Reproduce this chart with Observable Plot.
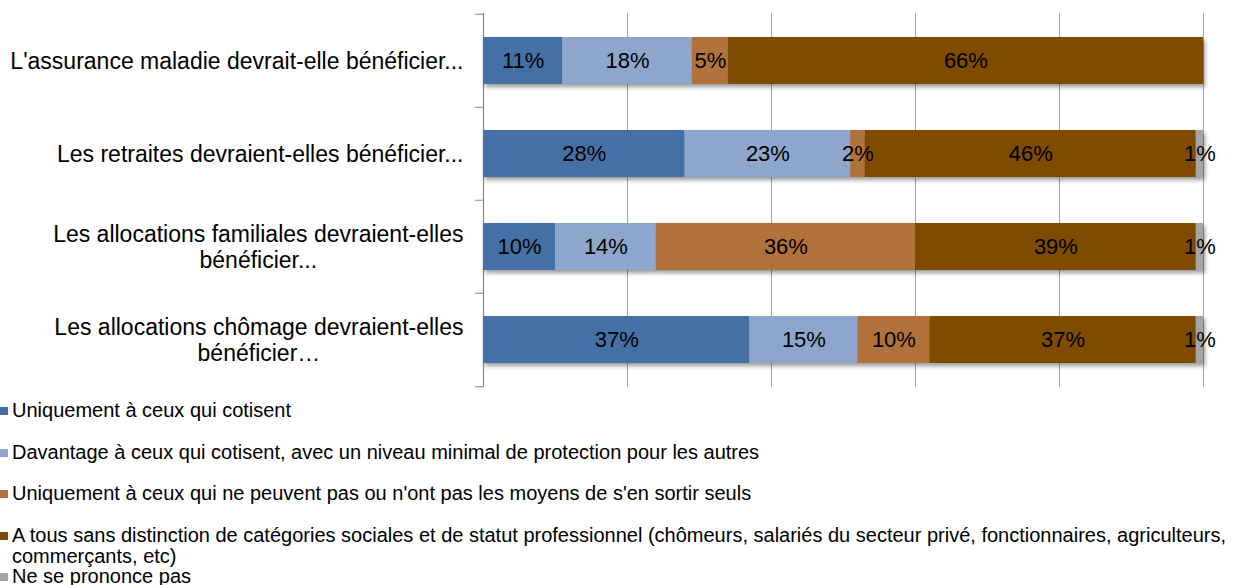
<!DOCTYPE html>
<html><head><meta charset="utf-8">
<script src="https://cdn.jsdelivr.net/npm/d3@7"></script>
<script src="https://cdn.jsdelivr.net/npm/@observablehq/plot@0.6"></script>
<style>
body{margin:0;background:#fff;font-family:"Liberation Sans",Arial,sans-serif;}
#chart svg{display:block;}
#legend{width:1233px;}
.item{display:flex;align-items:flex-start;height:41.5px;overflow:visible;}
.sw{width:8px;height:8px;flex:none;margin-top:7px;margin-right:4px;}
.lt{font-size:20px;line-height:21.5px;color:#000;}
</style></head><body><div id="chart"></div><div id="legend"></div>
<script>
const categories = [
  "L'assurance maladie devrait-elle bénéficier...",
  "Les retraites devraient-elles bénéficier...",
  "Les allocations familiales devraient-elles\nbénéficier...",
  "Les allocations chômage devraient-elles\nbénéficier…"
];
const seriesNames = [
  "Uniquement à ceux qui cotisent",
  "Davantage à ceux qui cotisent, avec un niveau minimal de protection pour les autres",
  "Uniquement à ceux qui ne peuvent pas ou n'ont pas les moyens de s'en sortir seuls",
  "A tous sans distinction de catégories sociales et de statut professionnel (chômeurs, salariés du secteur privé, fonctionnaires, agriculteurs, commerçants, etc)",
  "Ne se prononce pas"
];
const colors = ["#4470a6", "#8ea6cc", "#b0713b", "#7f4b00", "#a5a5a5"];
const uniquementCotisent = [11, 28, 10, 37];
const davantageCotisent = [18, 23, 14, 15];
const uniquementSansMoyens = [5, 2, 36, 10];
const aTous = [66, 46, 39, 37];
const nsp = [0, 1, 1, 1];
const seriesValues = [uniquementCotisent, davantageCotisent, uniquementSansMoyens, aTous, nsp];
const gridTicks = [20, 40, 60, 80, 100];

const data = categories.flatMap((c, i) => seriesNames.map((s, j) => ({cat: c, series: s, value: seriesValues[j][i]})));

const W = 1233, H = 400, mt = 13, mb = 13, ml = 483, mr = 30;
const step = (H - mt - mb) / categories.length;
const labelFont = 23;
const ctx = document.createElement("canvas").getContext("2d");
ctx.font = `${labelFont}px "Liberation Sans"`;

const labelMarks = categories.map(c => {
  const w = d3.max(c.split("\n"), l => ctx.measureText(l).width);
  return Plot.text([c], {x: () => 0, y: d => d, text: d => d, textAnchor: "middle",
    dx: -(20 + w / 2), fontSize: labelFont, lineHeight: 1.13, fill: "#000"});
});

const chart = Plot.plot({
  width: W, height: H,
  marginTop: mt, marginBottom: mb, marginLeft: ml, marginRight: mr,
  style: {fontFamily: '"Liberation Sans", Arial, sans-serif', background: "#fff"},
  x: {domain: [0, 100], axis: null},
  y: {domain: categories, paddingInner: 0.497, paddingOuter: 0.2485, axis: null},
  color: {domain: seriesNames, range: colors},
  marks: [
    Plot.ruleX(gridTicks, {stroke: "#a6a6a6", strokeWidth: 1}),
    Plot.ruleX([0], {stroke: "#868686", strokeWidth: 1.2}),
    Plot.ruleY(categories, {y: d => d, x1: -1.1, x2: 0, dy: -step / 2, stroke: "#868686"}),
    Plot.ruleY(categories.slice(-1), {y: d => d, x1: -1.1, x2: 0, dy: step / 2, stroke: "#868686"}),
    Plot.barX(data, Plot.stackX({x: "value", y: "cat", fill: "series"})),
    Plot.text(data.filter(d => d.value > 0), Plot.stackX({x: "value", y: "cat", z: "series",
      text: d => d.value + "%", fontSize: 22, fill: "#000"})),
    ...labelMarks
  ]
});
d3.select(chart).selectAll("g[aria-label='bar']").style("filter", "drop-shadow(2px 3px 2px rgba(0,0,0,0.4))");
document.getElementById("chart").appendChild(chart);

const legend = d3.select("#legend");
seriesNames.forEach((s, i) => {
  const it = legend.append("div").attr("class", "item");
  it.append("div").attr("class", "sw").style("background", colors[i]);
  it.append("div").attr("class", "lt").text(s);
});
</script></body></html>
